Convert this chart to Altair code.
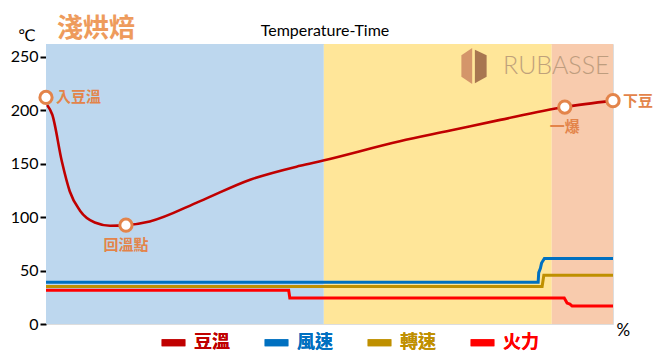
import altair as alt
import pandas as pd

# ---- data ----
phase_start = [0, 49, 89.2]
phase_end = [49, 89.2, 100]
phase_color = ["#bdd7ee", "#ffe699", "#f8cbad"]

temp_x = [0.2, 1.1, 2.8, 4.2, 6.0, 8.6, 11.3, 14.1, 18.3, 27.2, 36.0, 44.8, 48.9, 62.4, 71.3, 80.1, 91.5, 100]
temp_y = [205, 196, 152, 124, 106, 95, 92, 92.5, 96, 115, 135, 148, 153, 171, 181, 191, 203, 209]

fan_x = [0, 86.8, 86.9, 87.2, 87.4, 87.9, 100]
fan_y = [39, 39, 48, 52, 57, 61.4, 61.4]

drum_x = [0, 87.5, 87.8, 100]
drum_y = [35, 35, 45.5, 45.5]

heat_x = [0, 42.8, 43.0, 91.4, 91.9, 92.4, 92.8, 100]
heat_y = [31.5, 31.5, 24.3, 24.3, 19.6, 18.7, 16.8, 16.8]

series_names = ["豆溫", "風速", "轉速", "火力"]
series_colors = ["#c00000", "#0070c0", "#bf9000", "#ff0000"]

ann_label = ["入豆溫", "回溫點", "一爆", "下豆"]
ann_x = [0, 14.1, 91.5, 100]
ann_y = [212, 92.5, 203, 209]
ann_pos = ["right", "below", "below", "right"]

y_ticks = [0, 50, 100, 150, 200, 250]

# ---- frames ----
phases = pd.DataFrame({"start": phase_start, "end": phase_end, "color": phase_color})
rows = []
for name, xs, ys in [("豆溫", temp_x, temp_y), ("風速", fan_x, fan_y),
                     ("轉速", drum_x, drum_y), ("火力", heat_x, heat_y)]:
    for i, (a, b) in enumerate(zip(xs, ys)):
        rows.append({"series": name, "x": a, "y": b, "order": i})
lines = pd.DataFrame(rows)
ann = pd.DataFrame({"label": ann_label, "x": ann_x, "y": ann_y, "pos": ann_pos})

W, H = 567, 280
xscale = alt.Scale(domain=[0, 100], nice=False, zero=False)
yscale = alt.Scale(domain=[0, 262], nice=False)

cjk = "Noto Sans CJK TC"
orange = "#e3844a"

label_color_expr = ("datum.label == '豆溫' ? '#c00000' : datum.label == '風速' ? '#0070c0' : "
                    "datum.label == '轉速' ? '#bf9000' : '#ff0000'")

color_enc = alt.Color(
    "series:N",
    scale=alt.Scale(domain=series_names, range=series_colors),
    legend=alt.Legend(
        title=None, orient="none", direction="horizontal", legendX=112, legendY=283,
        symbolType="stroke", symbolSize=560, symbolStrokeWidth=7,
        labelFont=cjk, labelFontSize=18, labelFontWeight="bold",
        labelColor={"expr": label_color_expr}, columnPadding=20, labelOffset=5,
        padding=0,
    ),
)

bands = alt.Chart(phases).mark_rect().encode(
    x=alt.X("start:Q", scale=xscale,
            axis=alt.Axis(title="%", labels=False, ticks=False, domain=False, grid=False,
                          titleX=570, titleY=6, titleAlign="left", titleBaseline="middle",
                          titleFont="Lato", titleFontSize=17, titleFontWeight="normal",
                          titleColor="black")),
    x2="end:Q",
    color=alt.Color("color:N", scale=None, legend=None),
)

speed_lines = alt.Chart(lines).transform_filter(alt.datum.series != "豆溫").mark_line(
    strokeWidth=3, interpolate="linear"
).encode(
    x=alt.X("x:Q", scale=xscale),
    y=alt.Y("y:Q", scale=yscale,
            axis=alt.Axis(title="℃", values=y_ticks, grid=False, domain=False,
                          tickColor="black", tickWidth=2, tickSize=6,
                          labelFont="Lato", labelFontSize=16, labelColor="black", labelPadding=2,
                          titleAngle=0, titleX=-20, titleY=-9, titleAlign="center",
                          titleBaseline="middle", titleFont="DejaVu Sans", titleFontSize=16,
                          titleFontWeight="normal", titleColor="black")),
    color=color_enc,
    order="order:Q",
)

temp_line = alt.Chart(lines).transform_filter(alt.datum.series == "豆溫").mark_line(
    strokeWidth=2.6, interpolate="monotone"
).encode(
    x=alt.X("x:Q", scale=xscale),
    y=alt.Y("y:Q", scale=yscale),
    color=color_enc,
    order="order:Q",
)

markers = alt.Chart(ann).mark_point(
    shape="circle", size=150, filled=True, fill="white", stroke=orange, strokeWidth=3, opacity=1
).encode(x=alt.X("x:Q", scale=xscale), y=alt.Y("y:Q", scale=yscale))

right_labels = alt.Chart(ann).transform_filter(alt.datum.pos == "right").mark_text(
    align="left", baseline="middle", dx=10, font=cjk, fontSize=15, fontWeight="bold", color=orange
).encode(x=alt.X("x:Q", scale=xscale), y=alt.Y("y:Q", scale=yscale), text="label:N")

below_labels = alt.Chart(ann).transform_filter(alt.datum.pos == "below").mark_text(
    align="center", baseline="middle", dy=20, font=cjk, fontSize=15, fontWeight="bold", color=orange
).encode(x=alt.X("x:Q", scale=xscale), y=alt.Y("y:Q", scale=yscale), text="label:N")

big_title = alt.Chart(pd.DataFrame({"t": ["淺烘焙"]})).mark_text(
    align="left", baseline="middle", font=cjk, fontSize=26, fontWeight="bold", color="#ee9b5c"
).encode(x=alt.value(11), y=alt.value(-15), text="t:N")

chart_title = alt.Chart(pd.DataFrame({"t": ["Temperature-Time"]})).mark_text(
    align="center", baseline="middle", font="Lato", fontSize=16, color="black"
).encode(x=alt.value(279), y=alt.value(-13), text="t:N")

logo_text = alt.Chart(pd.DataFrame({"t": ["RUBASSE"]})).mark_text(
    align="left", baseline="middle", font="Lato", fontWeight=300, fontSize=25,
    color="#b59576", opacity=0.85
).encode(x=alt.value(457), y=alt.value(22), text="t:N")

logo_left = alt.Chart(pd.DataFrame({"k": [1]})).mark_point(
    shape="M-0.1,-1 L-0.7,-0.6 L-0.7,0.6 L-0.1,1 Z", size=1300, filled=True,
    fill="#d4956a", strokeWidth=0, opacity=1
).encode(x=alt.value(428), y=alt.value(22))

logo_right = alt.Chart(pd.DataFrame({"k": [1]})).mark_point(
    shape="M0.05,-0.9 L0.7,-0.6 L0.7,0.6 L0.05,0.95 Z", size=1300, filled=True,
    fill="#a87650", strokeWidth=0, opacity=1
).encode(x=alt.value(428), y=alt.value(22))

chart = alt.layer(
    bands, speed_lines, temp_line, markers, right_labels, below_labels,
    big_title, chart_title, logo_left, logo_right, logo_text
).resolve_scale(color="independent").properties(
    width=W, height=H,
    autosize=alt.AutoSizeParams(type="none"),
    padding={"left": 38, "top": 36, "right": 46, "bottom": 31},
).configure_view(stroke="black", strokeWidth=3).configure(background="white")

chart.save("out.html", embed_options={"renderer": "svg", "actions": False})
